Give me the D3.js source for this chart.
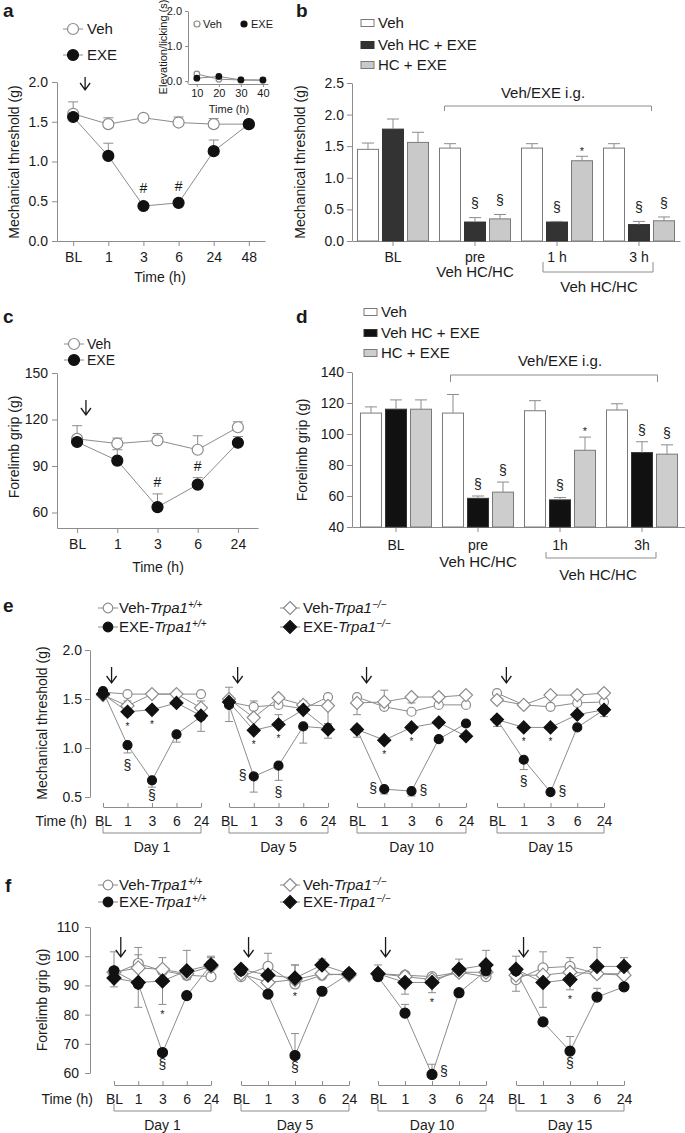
<!DOCTYPE html>
<html>
<head>
<meta charset="utf-8">
<script src="https://cdn.jsdelivr.net/npm/d3@7"></script>
<style>
  body { margin: 0; background: #fff; }
  svg { font-family: "Liberation Sans", Arial, Helvetica, sans-serif; background: #fff; }
</style>
</head>
<body>
<script>
// ---------- panel a : mechanical threshold ----------
var aTimes = ["BL", "1", "3", "6", "24", "48"]
var aVeh = [1.60, 1.47, 1.55, 1.49, 1.47, 1.47]
var aVehErr = [0.15, 0.08, 0.01, 0.07, 0.07, 0.01]
var aExe = [1.56, 1.07, 0.44, 0.48, 1.13, 1.47]
var aExeErr = [0.01, 0.16, 0.03, 0.01, 0.14, 0.01]
var aSig = ["", "", "#", "#", "", ""]
var aYTicks = [0, 0.5, 1.0, 1.5, 2.0]

// inset of a : elevation / licking
var inTimes = [10, 20, 30, 40]
var inVeh = [0.2, 0.05, 0.03, 0.02]
var inExe = [0.08, 0.13, 0.03, 0.03]
var inYTicks = [0, 1, 2]

// ---------- panel b : bars ----------
var bGroups = ["BL", "pre", "1 h", "3 h"]
var barSeries = ["Veh", "Veh HC + EXE", "HC + EXE"]
var bMean = [[1.45, 1.77, 1.56], [1.47, 0.30, 0.35], [1.47, 0.30, 1.27], [1.47, 0.26, 0.32]]
var bErr = [[0.10, 0.16, 0.16], [0.07, 0.07, 0.07], [0.07, 0.01, 0.07], [0.07, 0.05, 0.06]]
var bSig = [["", "", ""], ["", "§", "§"], ["", "§", "*"], ["", "§", "§"]]
var bYTicks = [0, 0.5, 1.0, 1.5, 2.0, 2.5]

// ---------- panel c : forelimb grip ----------
var cTimes = ["BL", "1", "3", "6", "24"]
var cVeh = [107.5, 104.5, 106.5, 100.5, 115]
var cVehErr = [8.5, 3.5, 4.5, 9, 3.5]
var cExe = [105.5, 93.5, 63.5, 78, 105]
var cExeErr = [2, 7, 8.5, 4.5, 4]
var cSig = ["", "", "#", "#", ""]
var cYTicks = [60, 90, 120, 150]

// ---------- panel d : bars ----------
var dGroups = ["BL", "pre", "1h", "3h"]
var dMean = [[113.5, 116, 116], [113.5, 58.5, 62.5], [115, 57.5, 89.5], [115.5, 88, 87]]
var dErr = [[4, 6, 6], [12, 1.5, 6.5], [6.5, 1.5, 8.5], [4, 7, 6]]
var dSig = [["", "", ""], ["", "§", "§"], ["", "§", "*"], ["", "§", "§"]]
var dYTicks = [40, 60, 80, 100, 120, 140]

// ---------- panels e / f : repeated dosing ----------
var days = ["Day 1", "Day 5", "Day 10", "Day 15"]
var dayTimes = ["BL", "1", "3", "6", "24"]
// err > 0 drawn up, err < 0 drawn down

var eVehWt = [[1.57, 1.55, 1.55, 1.55, 1.55], [1.47, 1.42, 1.44, 1.40, 1.52], [1.52, 1.42, 1.37, 1.44, 1.44], [1.56, 1.44, 1.42, 1.46, 1.47]]
var eVehWtErr = [[0, 0, 0, 0, 0], [0.15, 0.06, 0, 0.08, 0], [0, 0.17, 0, 0, 0], [0, 0, 0, 0, 0]]
var eVehKo = [[1.54, 1.43, 1.55, 1.55, 1.41], [1.50, 1.31, 1.51, 1.44, 1.43], [1.46, 1.47, 1.52, 1.52, 1.54], [1.49, 1.44, 1.54, 1.54, 1.56]]
var eVehKoErr = [[0, 0.05, 0, 0, 0.07], [0, 0, 0, 0, -0.18], [-0.12, 0, -0.06, 0, -0.07], [0, 0, 0, 0, 0]]
var eExeWt = [[1.58, 1.03, 0.67, 1.14, 1.32], [1.44, 0.71, 0.82, 1.22, 1.20], [1.19, 0.58, 0.56, 1.09, 1.25], [1.29, 0.88, 0.55, 1.21, 1.39]]
var eExeWtErr = [[0, -0.08, -0.07, -0.08, -0.15], [-0.17, -0.16, -0.15, -0.17, 0], [0, -0.05, -0.05, 0, 0], [0, -0.10, 0, 0, 0]]
var eExeKo = [[1.55, 1.37, 1.39, 1.46, 1.33], [1.47, 1.18, 1.24, 1.39, 1.19], [1.19, 1.08, 1.21, 1.26, 1.12], [1.29, 1.21, 1.21, 1.34, 1.39]]
var eExeKoErr = [[0, -0.04, 0, 0, 0], [0, 0, 0.10, 0, -0.09], [-0.08, 0, 0, 0, 0], [-0.07, 0, 0, 0, -0.07]]
var eStar = ["", "*", "*", "", ""]
var eSect = ["", "§", "§", "", ""]
var eYTicks = [0.5, 1.0, 1.5, 2.0]

var fVehWt = [[94, 97.5, 95, 93.5, 93], [93, 96.5, 90.5, 93.5, 94], [94, 93.5, 93, 94.5, 93], [92, 96, 96.5, 94, 94]]
var fVehWtErr = [[7.5, 5.5, 4.5, 8.5, 0], [0, 4.5, 6.5, 0, 0], [0, 0, 0, 0, 0], [-4, 5.5, 3, 0, 0]]
var fVehKo = [[94.5, 96, 95.5, 94, 96.5], [94, 91, 92, 94, 93.5], [94, 93, 92, 94.5, 94.5], [93.5, 93.5, 94.5, 94, 93.5]]
var fVehKoErr = [[0, 4.5, 0, 0, 3], [2.5, 0, 0, 0, 0], [0, 0, 0, 0, 0], [0, 0, 0, 0, 0]]
var fExeWt = [[95, 90.5, 67, 86.5, 97], [95, 87, 66, 88, 94], [93, 80.5, 59.5, 87.5, 95], [95, 77.5, 67.5, 86, 89.5]]
var fExeWtErr = [[0, 0, 0, 0, 0], [0, 0, 7.5, 0, 0], [0, 3, 3.5, 0, 0], [0, 1, 5, 3, 0]]
var fExeKo = [[92.5, 91, 91.5, 95, 97], [95.5, 93.5, 92.5, 97, 94], [94, 91, 91, 95.5, 97], [95.5, 91, 92, 96.5, 96.5]]
var fExeKoErr = [[-3, -8.5, -8, -3, 3], [0, 0, 4.5, 2, 0], [3, -4, -3.5, 3.5, 5], [4.5, -8.5, -3.5, 6.5, 3]]
var fStar = ["", "", "*", "", ""]
var fSect = ["", "", "§", "", ""]
var fYTicks = [60, 70, 80, 90, 100, 110]

// ---------- drawing ----------
var INK = "#1a1a1a"
var GREY = "#8c8c8c"
var f1 = d3.format(".1f")

var svg = d3.select("body").append("svg").attr("width", 685).attr("height", 1133)
var gAxes = svg.append("g")
var gLines = svg.append("g")
var gErr = svg.append("g")
var gMarks = svg.append("g")
var gText = svg.append("g")

function axis(gen, tx, ty, size) {
    var g = gAxes.append("g").attr("transform", "translate(" + tx + "," + ty + ")").call(gen)
    g.attr("font-family", null).attr("font-size", size || 14)
    g.select(".domain").attr("stroke", GREY)
    g.selectAll(".tick line").attr("stroke", GREY)
    g.selectAll(".tick text").attr("fill", INK)
    return g
}

function label(t, x, y, size, anchor) {
    return gText.append("text")
        .attr("x", x).attr("y", y).attr("dy", "0.35em")
        .attr("text-anchor", anchor || "middle")
        .attr("font-size", size).attr("fill", INK)
        .text(t)
}

function yTitle(t, x, y, size) {
    gText.append("text")
        .attr("transform", "translate(" + x + "," + y + ") rotate(-90)")
        .attr("text-anchor", "middle").attr("dy", "0.35em")
        .attr("font-size", size).attr("fill", INK)
        .text(t)
}

function panelLetter(t, x, y) {
    gText.append("text").attr("x", x).attr("y", y)
        .attr("font-size", 19).attr("font-weight", "bold").attr("fill", INK).text(t)
}

// visual centre of the glyph sits this many em above the baseline
var symShift = { "*": 0.58, "§": 0.27, "#": 0.36 }
function sym(t, x, cy, size) {
    gText.append("text").attr("x", x).attr("y", cy + symShift[t] * size)
        .attr("text-anchor", "middle").attr("font-size", size).attr("fill", INK).text(t)
}

function arrow(x, y0, y1) {
    gText.append("path")
        .attr("d", "M" + x + "," + y0 + "V" + y1 + "M" + (x - 5) + "," + (y1 - 7) + "L" + x + "," + y1 + "L" + (x + 5) + "," + (y1 - 7))
        .attr("fill", "none").attr("stroke", INK).attr("stroke-width", 1.3)
}

function bracket(x0, x1, y, h) {
    gAxes.append("path")
        .attr("d", "M" + x0 + "," + (y + h) + "V" + y + "H" + x1 + "V" + (y + h))
        .attr("fill", "none").attr("stroke", GREY)
}

function errBar(x, y0, y1, w) {
    gErr.append("path")
        .attr("d", "M" + x + "," + y0 + "V" + y1 + "M" + (x - w) + "," + y1 + "H" + (x + w))
        .attr("fill", "none").attr("stroke", GREY)
}

function marker(g, x, y, shape, filled, r) {
    var s
    if (shape == "circle") {
        s = g.append("circle").attr("cx", x).attr("cy", y).attr("r", r)
    } else {
        s = g.append("path").attr("d", "M" + x + "," + (y - r) + "L" + (x + r) + "," + y + "L" + x + "," + (y + r) + "L" + (x - r) + "," + y + "Z")
    }
    s.attr("fill", filled ? "#111" : "#fff")
        .attr("stroke", filled ? "#111" : GREY)
        .attr("stroke-width", 1.2)
}

function lineSeries(x, y, keys, vals, errs, shape, filled, r, cap) {
    gLines.append("path")
        .attr("d", d3.line()(keys.map(function (k, i) { return [x(k), y(vals[i])] })))
        .attr("fill", "none").attr("stroke", GREY)
    keys.forEach(function (k, i) {
        if (errs && errs[i]) errBar(x(k), y(vals[i]), y(vals[i] + errs[i]), cap)
        marker(gMarks, x(k), y(vals[i]), shape, filled, r)
    })
}

function legendItem(x, y, shape, filled, r) {
    gText.append("line").attr("x1", x - 10).attr("x2", x + 10).attr("y1", y).attr("y2", y).attr("stroke", GREY)
    marker(gText, x, y, shape, filled, r)
}

// ---------------- a ----------------
panelLetter("a", 3, 17)
var ax = d3.scalePoint().domain(aTimes).range([57, 265]).padding(0.46)
var ay = d3.scaleLinear().domain([0, 2]).range([241, 82])
axis(d3.axisBottom(ax).tickSize(5).tickSizeOuter(0).tickPadding(6), 0, 241)
axis(d3.axisLeft(ay).tickValues(aYTicks).tickFormat(f1).tickSize(5).tickSizeOuter(0).tickPadding(4), 57, 0)
lineSeries(ax, ay, aTimes, aVeh, aVehErr, "circle", false, 5.5, 5)
lineSeries(ax, ay, aTimes, aExe, aExeErr, "circle", true, 5.5, 5)
aTimes.forEach(function (t, i) {
    if (aSig[i]) sym(aSig[i], ax(t), ay(aExe[i] + aExeErr[i]) - 16, 14)
})
arrow(ax("BL") + 0.34 * ax.step(), 77, 90)
label("Time (h)", 160, 277, 14)
yTitle("Mechanical threshold (g)", 14, 162, 14)
legendItem(73, 29, "circle", false, 5.5)
label("Veh", 87, 29, 15, "start")
legendItem(73, 55, "circle", true, 5.5)
label("EXE", 87, 55, 15, "start")

// inset
var ix = d3.scaleLinear().domain([6, 42.3]).range([188, 268])
var iy = d3.scaleLinear().domain([0, 2]).range([81, 11])
axis(d3.axisBottom(ix).tickValues(inTimes).tickSize(3).tickSizeOuter(0).tickPadding(2), 0, 84, 11)
axis(d3.axisLeft(iy).tickValues(inYTicks).tickSize(3).tickSizeOuter(0).tickPadding(3), 188, 0, 11)
gAxes.append("line").attr("x1", 188).attr("x2", 188).attr("y1", 81).attr("y2", 84).attr("stroke", GREY)
;[[inVeh, false], [inExe, true]].forEach(function (s) {
    gLines.append("path")
        .attr("d", d3.line()(inTimes.map(function (t, i) { return [ix(t), iy(s[0][i])] })))
        .attr("fill", "none").attr("stroke", GREY)
    inTimes.forEach(function (t, i) { marker(gMarks, ix(t), iy(s[0][i]), "circle", s[1], 2.8) })
})
label("Time (h)", 229, 109, 11)
yTitle("Elevation/licking (s)", 163, 47, 11)
marker(gText, 197, 24, "circle", false, 3)
label("Veh", 203, 24, 11, "start")
marker(gText, 244, 24, "circle", true, 3)
label("EXE", 251, 24, 11, "start")

// ---------------- b / d bar panels ----------------
var barFills = { b: ["#fff", "#333", "#c9c9c9"], d: ["#fff", "#111", "#cdcdcd"] }
var barStrokes = ["#7a7a7a", "#333", "#7a7a7a"]

function barPanel(o) {
    var x = d3.scaleBand().domain(o.groups).range(o.xr).paddingInner(0.134).paddingOuter(o.po)
    var xi = d3.scaleBand().domain(barSeries).range([0, x.bandwidth()]).paddingInner(0.16)
    var y = d3.scaleLinear().domain(o.yd).range(o.yr)
    axis(d3.axisBottom(x).tickSize(5).tickSizeOuter(0).tickPadding(o.tp), 0, o.yr[0])
    axis(d3.axisLeft(y).tickValues(o.yTicks).tickFormat(o.fmt).tickSize(5).tickSizeOuter(0).tickPadding(3), o.xr[0], 0)
    o.groups.forEach(function (gname, gi) {
        barSeries.forEach(function (s, si) {
            var v = o.mean[gi][si], e = o.err[gi][si]
            var bx = x(gname) + xi(s)
            gLines.append("rect")
                .attr("x", bx).attr("y", y(v))
                .attr("width", xi.bandwidth()).attr("height", y(o.yd[0]) - y(v))
                .attr("fill", o.fills[si]).attr("stroke", barStrokes[si])
            var cx = bx + xi.bandwidth() / 2
            errBar(cx, y(v), y(v + e), 6)
            var m = o.sig[gi][si]
            if (m) sym(m, cx, y(v + e) - (m == "*" ? 8 : o.sOff), m == "*" ? 11 : 14)
        })
    })
    // legend
    barSeries.forEach(function (s, si) {
        gText.append("rect").attr("x", o.legX).attr("y", o.legY[si] - 3.5).attr("width", 13).attr("height", 7)
            .attr("fill", o.fills[si]).attr("stroke", barStrokes[si])
        label(s, o.legX + 17, o.legY[si], 15, "start")
    })
    return x
}

panelLetter("b", 296, 17)
var bx = barPanel({
    groups: bGroups, mean: bMean, err: bErr, sig: bSig, fills: barFills.b,
    xr: [352, 680], po: 0.067, yd: [0, 2.5], yr: [241, 83], yTicks: bYTicks, fmt: f1, tp: 6, sOff: 13,
    legX: 361, legY: [23, 45, 65]
})
bracket(bx("pre") + 5, bx("3 h") + bx.bandwidth() - 23, 106, 5)
label("Veh/EXE i.g.", 543, 93, 15)
label("Veh HC/HC", bx("pre") + bx.bandwidth() / 2, 272, 15)
bracket(bx("1 h") + bx.bandwidth() / 2 - 14, bx("3 h") + bx.bandwidth() / 2 + 14, 272, -10)
label("Veh HC/HC", 599, 287, 15)
yTitle("Mechanical threshold (g)", 300, 162, 14)

panelLetter("d", 296, 323)
var dx = barPanel({
    groups: dGroups, mean: dMean, err: dErr, sig: dSig, fills: barFills.d,
    xr: [352, 686], po: 0.1035, yd: [40, 140], yr: [527, 372], yTicks: dYTicks, fmt: d3.format("d"), tp: 8, sOff: 11,
    legX: 364, legY: [312, 333, 353]
})
bracket(dx("pre") + 8, dx("3h") + dx.bandwidth() - 20, 375, 7)
label("Veh/EXE i.g.", 560, 361, 15)
label("Veh HC/HC", dx("pre") + dx.bandwidth() / 2, 562, 15)
bracket(dx("1h") + dx.bandwidth() / 2 - 14, dx("3h") + dx.bandwidth() / 2 + 14, 558, -6)
label("Veh HC/HC", 598, 575, 15)
yTitle("Forelimb grip (g)", 302, 450, 14)

// ---------------- c ----------------
panelLetter("c", 3, 323)
var cx = d3.scalePoint().domain(cTimes).range([57, 258]).padding(0.5)
var cy = d3.scaleLinear().domain([50, 150]).range([528, 373])
axis(d3.axisBottom(cx).tickSize(5).tickSizeOuter(0).tickPadding(6), 0, 528)
axis(d3.axisLeft(cy).tickValues(cYTicks).tickSize(5).tickSizeOuter(0).tickPadding(4), 57, 0)
lineSeries(cx, cy, cTimes, cVeh, cVehErr, "circle", false, 5.5, 5)
lineSeries(cx, cy, cTimes, cExe, cExeErr, "circle", true, 5.5, 5)
cTimes.forEach(function (t, i) {
    if (cSig[i]) sym(cSig[i], cx(t), cy(cExe[i] + cExeErr[i]) - 12, 14)
})
arrow(cx("BL") + 0.22 * cx.step(), 400, 415)
label("Time (h)", 158, 567, 14)
yTitle("Forelimb grip (g)", 14, 447, 14)
legendItem(74, 344, "circle", false, 5.5)
label("Veh", 87, 344, 14, "start")
legendItem(74, 360, "circle", true, 5.5)
label("EXE", 87, 360, 14, "start")

// ---------------- e / f ----------------
function trpaText(x, y, prefix, sup) {
    var t = gText.append("text").attr("x", x).attr("y", y).attr("dy", "0.35em")
        .attr("font-size", 15).attr("fill", INK)
    t.append("tspan").text(prefix + "-")
    t.append("tspan").attr("font-style", "italic").text("Trpa1")
    t.append("tspan").attr("font-style", "italic").attr("font-size", 10).attr("dy", "-0.5em").text(sup)
}

function trpaLegend(y1, y2) {
    legendItem(108, y1, "circle", false, 4.8)
    trpaText(119, y1, "Veh", "+/+")
    legendItem(108, y2, "circle", true, 4.8)
    trpaText(119, y2, "EXE", "+/+")
    legendItem(290, y1, "diamond", false, 6.5)
    trpaText(303, y1, "Veh", "\u2212/\u2212")
    legendItem(290, y2, "diamond", true, 6.5)
    trpaText(303, y2, "EXE", "\u2212/\u2212")
}

function dayPanel(o) {
    var y = d3.scaleLinear().domain(o.yd).range(o.yr)
    axis(d3.axisLeft(y).tickValues(o.yTicks).tickFormat(o.fmt).tickSize(5).tickSizeOuter(0).tickPadding(o.ytp), 90, 0)
    label("Time (h)", o.timeX, o.axY + 14, 14, "end")
    o.ranges.forEach(function (r, d) {
        var x = d3.scalePoint().domain(dayTimes).range(r)
        axis(d3.axisBottom(x).tickSize(-4).tickSizeOuter(0).tickPadding(9), 0, o.axY)
        bracket(r[0], r[1], o.axY + 26, -7)
        label(days[d], (r[0] + r[1]) / 2, o.axY + 40, 14)
        arrow(r[0] + o.arrFrac * x.step(), o.arrY[0], o.arrY[1])
        o.series.forEach(function (s) {
            lineSeries(x, y, dayTimes, s.vals[d], s.errs[d], s.shape, s.filled, s.shape == "circle" ? o.rc : o.rd, 4)
        })
        var ko = o.series[3], wt = o.series[2]
        dayTimes.forEach(function (t, i) {
            if (o.star[i]) {
                var py = y(ko.vals[d][i]), pe = y(ko.vals[d][i] + Math.min(ko.errs[d][i], 0))
                sym("*", x(t), Math.max(py + o.starGap, pe + 7), o.starSize)
            }
            if (o.sect[i]) {
                var wy = y(wt.vals[d][i]), we = y(wt.vals[d][i] + Math.min(wt.errs[d][i], 0))
                var sy = Math.max(wy, we) + 13
                if (sy > o.sectMax + 5) sym("§", x(t) + (i == 1 ? -11 : 12), Math.min(wy, o.sectMax), 14)
                else sym("§", x(t), Math.min(sy, o.sectMax), 14)
            }
        })
    })
}

panelLetter("e", 3, 612)
trpaLegend(608, 627)
dayPanel({
    yd: [0.5, 2.0], yr: [797, 650], yTicks: eYTicks, fmt: f1, ytp: 3,
    ranges: [[103, 201], [229, 328], [357, 466], [497, 604]],
    axY: 807, timeX: 87, arrFrac: 0.35, arrY: [667, 683], rc: 4.5, rd: 6.5,
    star: eStar, sect: eSect, starGap: 12, starSize: 10, sectMax: 796,
    series: [
        { vals: eVehWt, errs: eVehWtErr, shape: "circle", filled: false },
        { vals: eVehKo, errs: eVehKoErr, shape: "diamond", filled: false },
        { vals: eExeWt, errs: eExeWtErr, shape: "circle", filled: true },
        { vals: eExeKo, errs: eExeKoErr, shape: "diamond", filled: true }
    ]
})
yTitle("Mechanical threshold (g)", 42, 723, 14)

panelLetter("f", 5, 892)
trpaLegend(885, 902)
dayPanel({
    yd: [60, 110], yr: [1073, 927], yTicks: fYTicks, fmt: d3.format("d"), ytp: 6,
    ranges: [[114, 211], [241, 349], [378, 486], [516, 624]],
    axY: 1085, timeX: 93, arrFrac: 0.28, arrY: [937, 957], rc: 5, rd: 7,
    star: fStar, sect: fSect, starGap: 16, starSize: 11, sectMax: 1072,
    series: [
        { vals: fVehWt, errs: fVehWtErr, shape: "circle", filled: false },
        { vals: fVehKo, errs: fVehKoErr, shape: "diamond", filled: false },
        { vals: fExeWt, errs: fExeWtErr, shape: "circle", filled: true },
        { vals: fExeKo, errs: fExeKoErr, shape: "diamond", filled: true }
    ]
})
yTitle("Forelimb grip (g)", 42, 1000, 14)
</script>
</body>
</html>
